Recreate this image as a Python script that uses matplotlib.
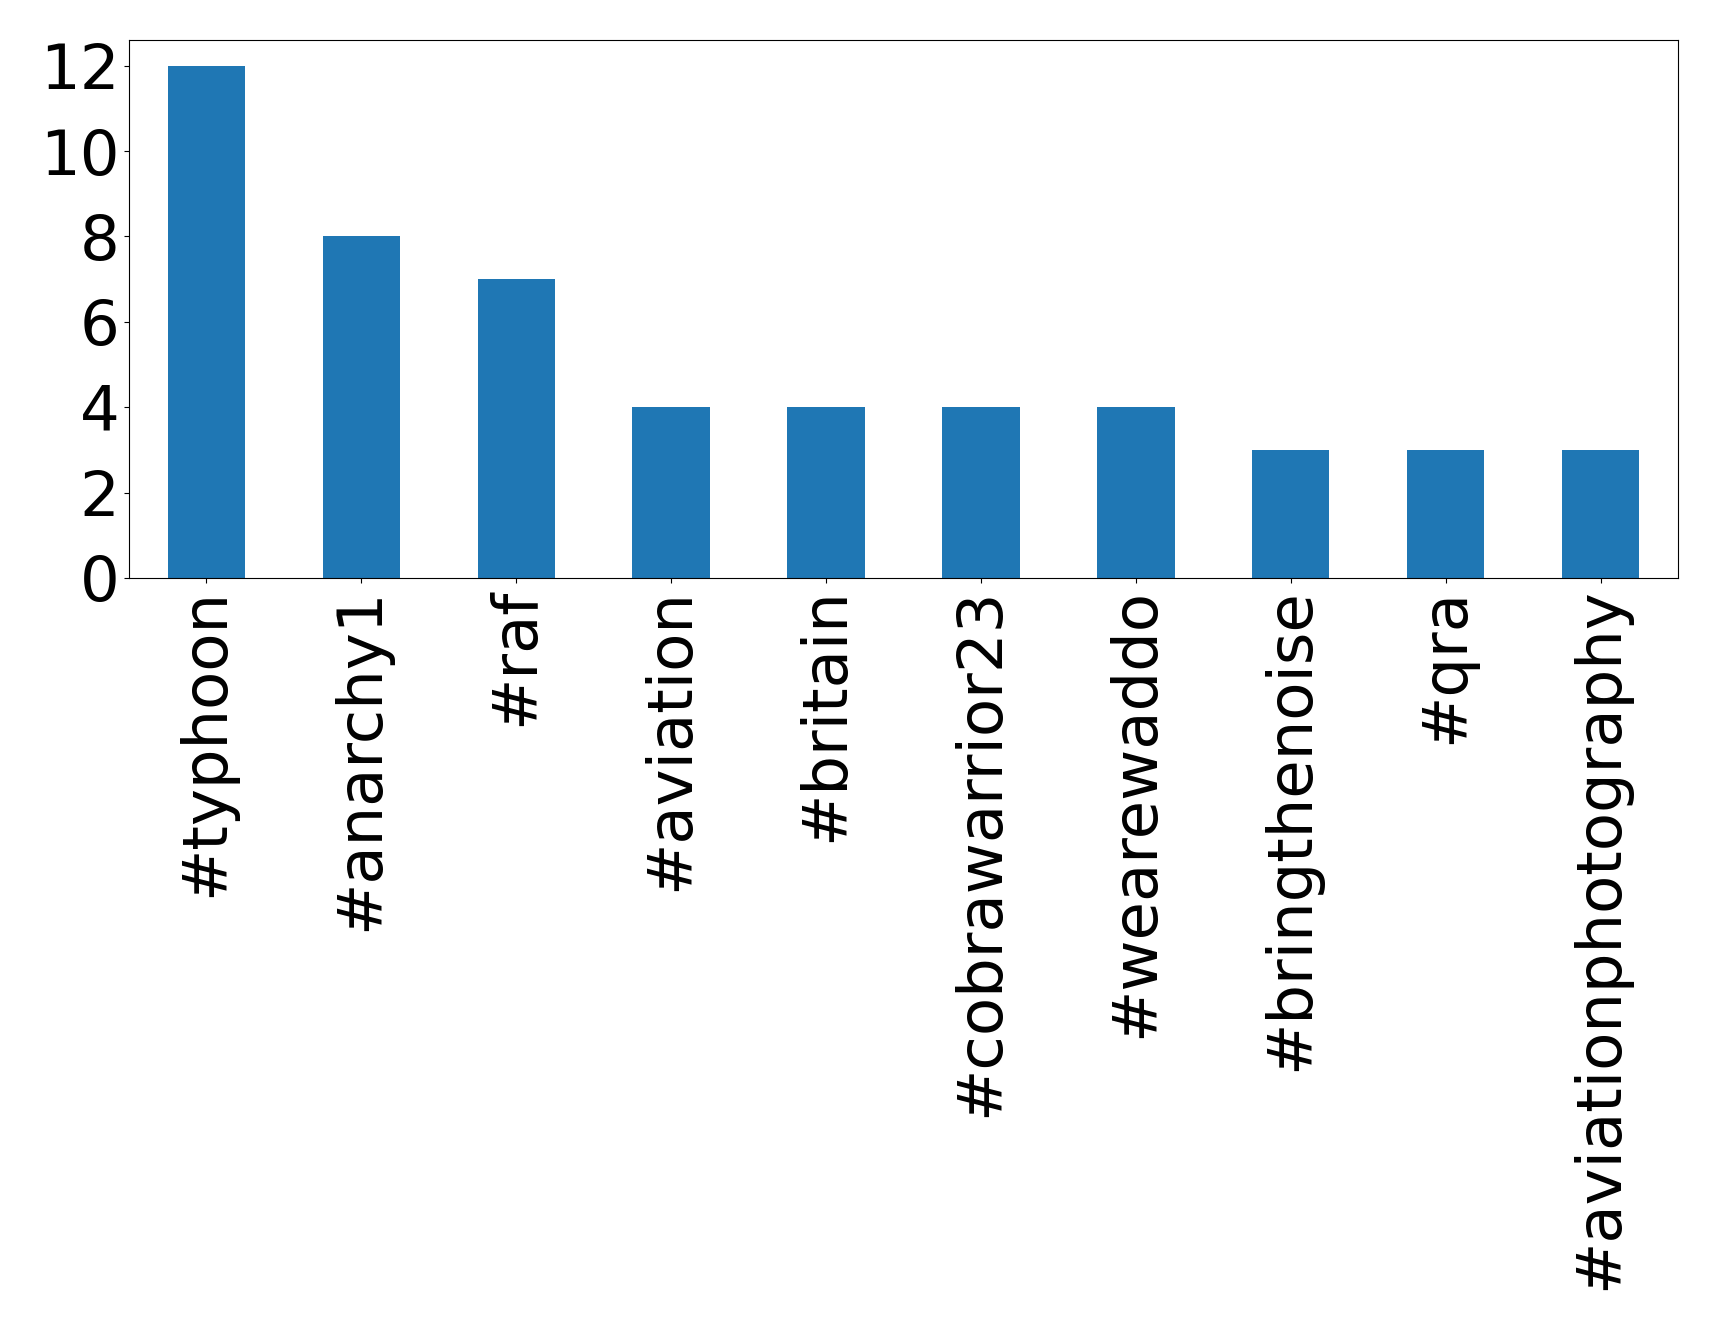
import matplotlib
matplotlib.use("Agg")
import matplotlib.pyplot as plt

hashtags = ['#typhoon', '#anarchy1', '#raf', '#aviation', '#britain',
            '#cobrawarrior23', '#wearewaddo', '#bringthenoise', '#qra',
            '#aviationphotography']
counts = [12, 8, 7, 4, 4, 4, 4, 3, 3, 3]

fig = plt.figure(figsize=(17.19, 13.31), dpi=100)
ax = fig.add_axes([129 / 1719, 1 - 578 / 1331, (1678 - 129) / 1719, (578 - 40) / 1331])

x = range(len(hashtags))
ax.bar(x, counts, width=0.5, color='#1f77b4')
ax.set_xlim(-0.5, len(hashtags) - 0.5)
ax.set_xticks(list(x))
ax.set_xticklabels(hashtags, rotation=90, fontsize=45)
ax.tick_params(axis='y', labelsize=45)
ax.set_yticks([0, 2, 4, 6, 8, 10, 12])

fig.savefig('out.png', dpi=100)
